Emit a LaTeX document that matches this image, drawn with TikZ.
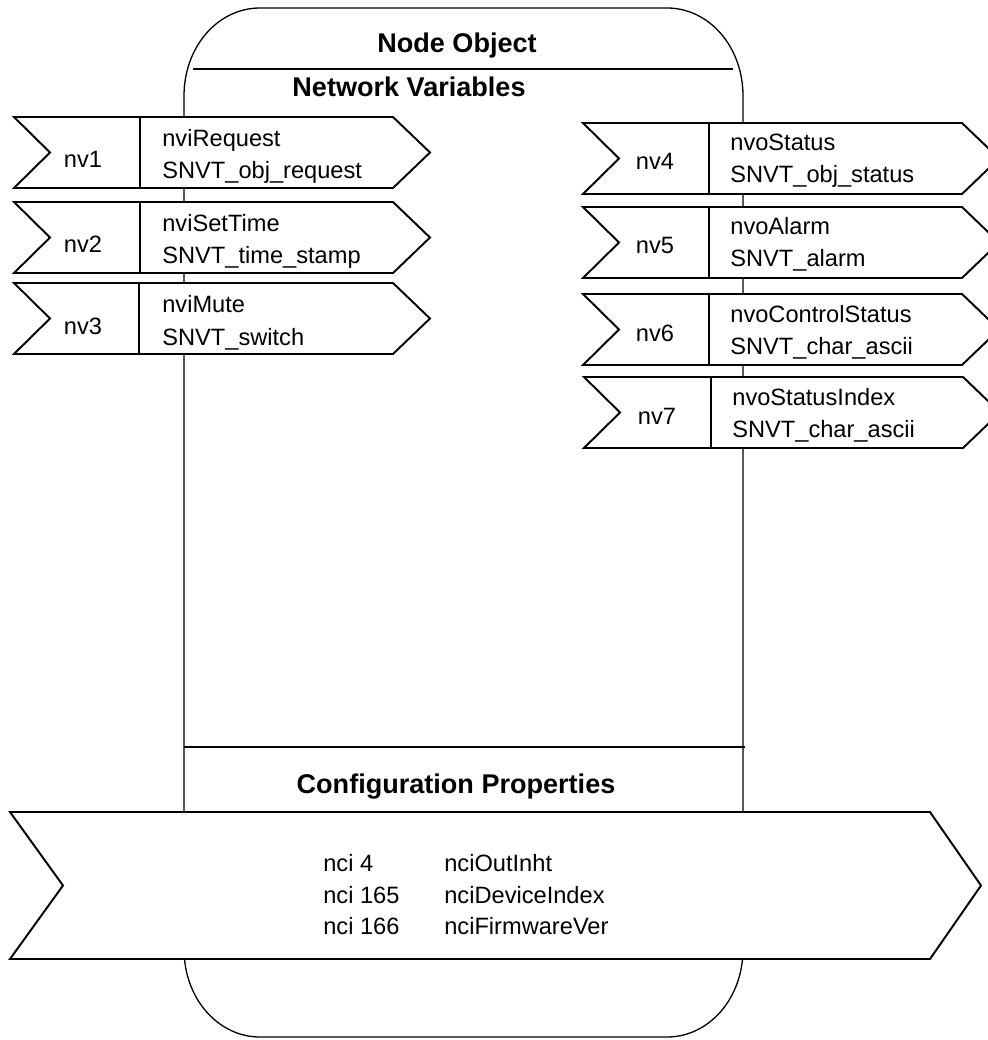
\documentclass[tikz,border=0pt]{standalone}
\usepackage{fontspec}
\setmainfont{Liberation Sans}
\begin{document}
\begin{tikzpicture}[x=0.02cm, y=-0.02cm, title node/.style={font=\fontsize{15.4}{18}\selectfont\bfseries, anchor=base, inner sep=0pt},nv node/.style={font=\fontsize{13.45}{16}\selectfont, anchor=base, inner sep=0pt},var node/.style={font=\fontsize{13.45}{16}\selectfont, anchor=base west, inner sep=0pt},body line/.style={line width=0.75pt, black},split line/.style={line width=1.1pt, black},nv box/.style={line width=1.1pt, black, fill=white, line join=miter}]%
\path[use as bounding box] (0,0) rectangle (987,1040);%
  % Node object body%
\draw[body line] (184,96) .. controls (184,46.6) and (218.0,8) .. (260,8) -- (667,8) .. controls (709.0,8) and (743,46.6) .. (743,96) -- (743,949) .. controls (743,998.4) and (709.0,1037) .. (667,1037) -- (260,1037) .. controls (218.0,1037) and (184,998.4) .. (184,949) -- cycle;%
\draw[split line] (193,69) -- (733,69);%
\draw[split line] (184,747) -- (745,747);%
\node[title node] (object) at (457,53) {Node Object};%
\node[title node] (netvars) at (409,97) {Network Variables};%
\node[title node] (config) at (456,793) {Configuration Properties};%
  % Input network variables%
\draw[nv box] (14,117) -- (393,117) -- (430,152.5) -- (393,188) -- (14,188) -- (50,152.5) -- cycle;%
\draw[nv box] (140,117) -- (140,188);%
\node[nv node] (nv1) at (83,168) {nv1};%
\node[var node] (nv1 name) at (162,147) {nviRequest};%
\node[var node] (nv1 type) at (162,179) {SNVT\_obj\_request};%
\draw[nv box] (14,202) -- (393,202) -- (430,237.5) -- (393,273) -- (14,273) -- (50,237.5) -- cycle;%
\draw[nv box] (140,202) -- (140,273);%
\node[nv node] (nv2) at (83,253) {nv2};%
\node[var node] (nv2 name) at (162,232) {nviSetTime};%
\node[var node] (nv2 type) at (162,264) {SNVT\_time\_stamp};%
\draw[nv box] (14,283) -- (393,283) -- (430,318.5) -- (393,354) -- (14,354) -- (50,318.5) -- cycle;%
\draw[nv box] (139,283) -- (139,354);%
\node[nv node] (nv3) at (83,334) {nv3};%
\node[var node] (nv3 name) at (162,313) {nviMute};%
\node[var node] (nv3 type) at (162,345) {SNVT\_switch};%
  % Output network variables%
\draw[nv box] (583,123) -- (962,123) -- (999,158.5) -- (962,194) -- (583,194) -- (619,158.5) -- cycle;%
\draw[nv box] (709,123) -- (709,194);%
\node[nv node] (nv4) at (655,170) {nv4};%
\node[var node] (nv4 name) at (730,151) {nvoStatus};%
\node[var node] (nv4 type) at (730,183) {SNVT\_obj\_status};%
\draw[nv box] (583,207) -- (962,207) -- (999,242.5) -- (962,278) -- (583,278) -- (619,242.5) -- cycle;%
\draw[nv box] (709,207) -- (709,278);%
\node[nv node] (nv5) at (655,254) {nv5};%
\node[var node] (nv5 name) at (730,235) {nvoAlarm};%
\node[var node] (nv5 type) at (730,267) {SNVT\_alarm};%
\draw[nv box] (583,294) -- (962,294) -- (999,329.5) -- (962,365) -- (583,365) -- (619,329.5) -- cycle;%
\draw[nv box] (709,294) -- (709,365);%
\node[nv node] (nv6) at (655,341) {nv6};%
\node[var node] (nv6 name) at (730,322) {nvoControlStatus};%
\node[var node] (nv6 type) at (730,354) {SNVT\_char\_ascii};%
\draw[nv box] (584,377) -- (963,377) -- (1000,412.5) -- (963,448) -- (584,448) -- (620,412.5) -- cycle;%
\draw[nv box] (711,377) -- (711,448);%
\node[nv node] (nv7) at (657,424) {nv7};%
\node[var node] (nv7 name) at (732,405) {nvoStatusIndex};%
\node[var node] (nv7 type) at (732,437) {SNVT\_char\_ascii};%
  % Configuration properties%
\draw[nv box] (10,812) -- (930,812) -- (981,885.5) -- (930,959) -- (10,959) -- (63,885.5) -- cycle;%
\node[var node] (nci4) at (323,871) {nci 4};%
\node[var node] (nci4 name) at (444,871) {nciOutInht};%
\node[var node] (nci165) at (323,903) {nci 165};%
\node[var node] (nci165 name) at (444,903) {nciDeviceIndex};%
\node[var node] (nci166) at (323,934) {nci 166};%
\node[var node] (nci166 name) at (444,934) {nciFirmwareVer};%
\end{tikzpicture}
\end{document}
